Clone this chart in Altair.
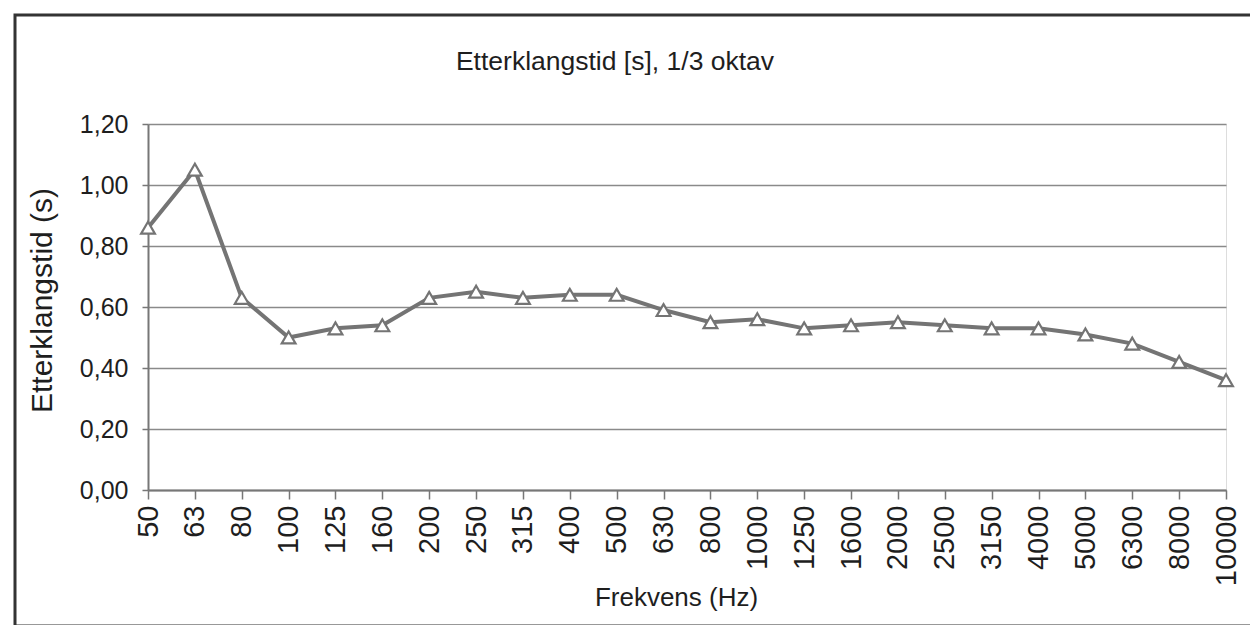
import altair as alt
import pandas as pd

freqs = ["50", "63", "80", "100", "125", "160", "200", "250", "315", "400", "500", "630",
         "800", "1000", "1250", "1600", "2000", "2500", "3150", "4000", "5000", "6300", "8000", "10000"]
values = [0.86, 1.05, 0.63, 0.50, 0.53, 0.54, 0.63, 0.65, 0.63, 0.64, 0.64, 0.59,
          0.55, 0.56, 0.53, 0.54, 0.55, 0.54, 0.53, 0.53, 0.51, 0.48, 0.42, 0.36]
y_ticks = [0.0, 0.2, 0.4, 0.6, 0.8, 1.0, 1.2]

title_text = "Etterklangstid [s], 1/3 oktav"
x_title = "Frekvens (Hz)"
y_title = "Etterklangstid (s)"

df = pd.DataFrame({"freq": freqs, "t": values})

FONT = "Liberation Sans"
LINE = "#747474"
TXT = "#1e1e1e"

x_enc = alt.X(
    "freq:N",
    sort=freqs,
    scale=alt.Scale(type="point", padding=0),
    axis=alt.Axis(
        title=x_title,
        labelAngle=-90,
        labelAlign="right",
        labelBaseline="middle",
        labelFont=FONT,
        labelFontSize=29,
        labelColor=TXT,
        labelPadding=6,
        tickSize=9,
        tickColor="#777",
        tickWidth=1.5,
        domainColor="#777",
        domainWidth=2,
        grid=False,
        titleFont=FONT,
        titleFontSize=26,
        titleFontWeight="normal",
        titleColor=TXT,
        titleX=528,
        titleY=107,
        titleBaseline="middle",
        titleAlign="center",
        labelOverlap=False,
    ),
)

y_enc = alt.Y(
    "t:Q",
    scale=alt.Scale(domain=[0, 1.2], nice=False, zero=True),
    axis=alt.Axis(
        title=y_title,
        values=y_ticks,
        labelExpr="replace(format(datum.value, '.2f'), '.', ',')",
        labelFont=FONT,
        labelFontSize=25,
        labelColor=TXT,
        labelPadding=14,
        tickSize=6,
        tickColor="#777",
        tickWidth=1.5,
        domainColor="#777",
        domainWidth=2,
        gridColor="#8a8a8a",
        gridWidth=1.5,
        titleFont=FONT,
        titleFontSize=30,
        titleFontWeight="normal",
        titleColor=TXT,
        titleAngle=-90,
        titleX=-106,
        titleY=176,
        titleBaseline="middle",
        titleAlign="center",
    ),
)

base = alt.Chart(df)

line = base.mark_line(color=LINE, strokeWidth=4).encode(x=x_enc, y=y_enc)
points = base.mark_point(
    shape="triangle-up", filled=True, fill="white", stroke=LINE, strokeWidth=2.2, size=190, opacity=1
).encode(x=x_enc, y=y_enc)

frame = alt.Chart(pd.DataFrame({"a": [0]})).mark_rect(
    fill=None, stroke="#333", strokeWidth=3, clip=False
).encode(
    x=alt.value(-133), x2=alt.value(1106), y=alt.value(-109), y2=alt.value(502)
)

chart = alt.layer(line, points, frame).properties(
    width=1078,
    height=366,
    title=alt.TitleParams(
        text=title_text,
        font=FONT,
        fontSize=26.5,
        fontWeight="normal",
        color=TXT,
        anchor="middle",
        baseline="bottom",
        dx=-72,
        offset=-89,
    ),
    autosize=alt.AutoSizeParams(type="none"),
    padding={"left": 140, "top": 116, "right": 24, "bottom": 135},
).configure_view(
    stroke="#c8c8c8", strokeDash=[2, 2], strokeWidth=1
).configure(background="white")

chart.save("out.html", embed_options={"renderer": "svg", "actions": False})
